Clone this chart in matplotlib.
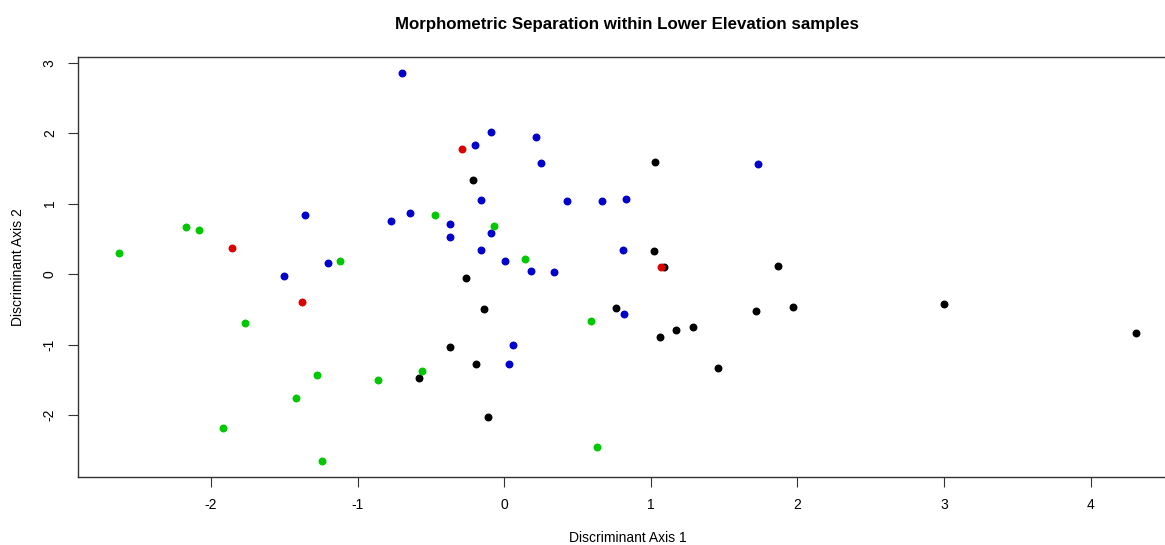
import numpy as np
import matplotlib
matplotlib.use("Agg")
import matplotlib.pyplot as plt

plt.rcParams['font.family'] = ['Liberation Sans', 'DejaVu Sans']
plt.rcParams['axes.unicode_minus'] = False

# discriminant scores, one pair of lists per group
blue_x = [-0.70, -0.20, -0.09, 0.22, 0.25, -0.16, 0.43, 0.67, 0.83, -0.77, -0.64, -0.37, -0.37,
          -0.09, -0.16, 0.005, 0.81, -1.36, -1.20, 0.18, 0.34, 0.06, 0.03, 0.82, -1.50, 1.73]
blue_y = [2.86, 1.83, 2.02, 1.94, 1.58, 1.05, 1.04, 1.03, 1.06, 0.75, 0.87, 0.71, 0.53,
          0.58, 0.34, 0.18, 0.34, 0.84, 0.15, 0.05, 0.03, -1.01, -1.27, -0.56, -0.03, 1.56]

green_x = [-2.63, -2.17, -2.08, -1.12, -0.47, -0.07, 0.14, -1.77, -1.28, -1.42, -1.92, -1.24,
           -0.86, -0.56, 0.59, 0.63]
green_y = [0.30, 0.67, 0.62, 0.19, 0.84, 0.68, 0.22, -0.69, -1.43, -1.76, -2.18, -2.66,
           -1.51, -1.37, -0.67, -2.46]

black_x = [-0.21, 1.03, 1.02, 1.09, 1.87, -0.26, -0.14, 0.76, -0.37, -0.19, -0.58, -0.11,
           1.06, 1.17, 1.29, 1.46, 1.72, 1.97, 3.00, 4.31]
black_y = [1.34, 1.59, 0.33, 0.10, 0.12, -0.06, -0.50, -0.48, -1.04, -1.28, -1.47, -2.03,
           -0.89, -0.79, -0.75, -1.33, -0.52, -0.47, -0.42, -0.84]

red_x = [-1.86, -0.29, -1.38, 1.07]
red_y = [0.37, 1.77, -0.40, 0.10]

W, H = 1165, 545
fig = plt.figure(figsize=(W / 100, H / 100), dpi=100)
# plot box runs past the right edge of the image, as in the reference
left, right, top, bottom = 77.7, 1177, 57, 477
ax = fig.add_axes([left / W, 1 - bottom / H, (right - left) / W, (bottom - top) / H])

ax.scatter(black_x, black_y, s=22, color='black', zorder=3)
ax.scatter(blue_x, blue_y, s=22, color='#0000CD', zorder=3)
ax.scatter(green_x, green_y, s=22, color='#00C800', zorder=3)
ax.scatter(red_x, red_y, s=22, color='#DD0000', zorder=4)

ax.set_xlim(-2.91, 4.59)
ax.set_ylim(-2.88, 3.08)
ax.set_xticks([-2, -1, 0, 1, 2, 3, 4])
ax.set_yticks([-2, -1, 0, 1, 2, 3])
ax.tick_params(direction='out', length=7, width=0.8, color='#333333', labelsize=10, pad=8)
for lab in ax.get_yticklabels():
    lab.set_rotation(90)
    lab.set_va('center')
for sp in ax.spines.values():
    sp.set_color('#333333')
    sp.set_linewidth(1.0)

ax.set_title('Morphometric Separation within Lower Elevation samples',
             fontsize=12.2, fontweight='bold', pad=20)
ax.set_xlabel('Discriminant Axis 1', fontsize=10, labelpad=14)
ax.set_ylabel('Discriminant Axis 2', fontsize=10, labelpad=13)

fig.savefig('out.png', dpi=100)
